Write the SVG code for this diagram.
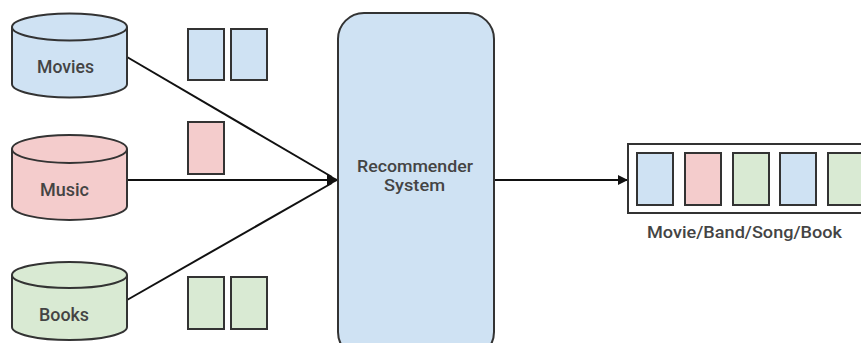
<svg xmlns="http://www.w3.org/2000/svg" width="861" height="343" viewBox="0 0 861 343">
<defs>
<style>
.s{stroke:#333;stroke-width:2}
.b{fill:#cfe2f3}.p{fill:#f4cccc}.g{fill:#d9ead3}
.t{font-family:Roboto,"Liberation Sans",sans-serif;font-weight:500;fill:#444;text-anchor:middle}
.c{font-size:19px}
.r{font-size:16px}
.l{stroke:#111;stroke-width:2;fill:none}
</style>
<marker id="ah" markerWidth="10" markerHeight="10" refX="9" refY="5" orient="auto" markerUnits="userSpaceOnUse"><path d="M0,0 L10,5 L0,10 Z" fill="#111"/></marker>
<marker id="ah2" markerWidth="12" markerHeight="12" refX="11" refY="6" orient="auto" markerUnits="userSpaceOnUse"><path d="M0,0 L12,6 L0,12 Z" fill="#111"/></marker>
</defs>
<rect width="861" height="343" fill="#fff"/>
<g id="connectors">
<line class="l" x1="127" y1="57" x2="332" y2="177"/>
<line class="l" x1="127" y1="300" x2="332" y2="183"/>
<line class="l" x1="127" y1="180" x2="338" y2="180" marker-end="url(#ah2)"/>
<line class="l" x1="494" y1="180" x2="627" y2="180" marker-end="url(#ah)"/>
</g>
<g id="movies">
<path class="s b" d="M12,27 L12,84 A57.5,13.5 0 0 0 127,84 L127,27"/>
<ellipse class="s b" cx="69.5" cy="27" rx="57.5" ry="13.5"/>
<text class="t c" x="65.5" y="73" textLength="57" lengthAdjust="spacingAndGlyphs">Movies</text>
</g>
<g id="music">
<path class="s p" d="M12,149 L12,206 A57.5,14 0 0 0 127,206 L127,149"/>
<ellipse class="s p" cx="69.5" cy="149" rx="57.5" ry="14"/>
<text class="t c" x="64.5" y="196" textLength="49" lengthAdjust="spacingAndGlyphs">Music</text>
</g>
<g id="books">
<path class="s g" d="M12,275 L12,327 A57.5,13 0 0 0 127,327 L127,275"/>
<ellipse class="s g" cx="69.5" cy="275" rx="57.5" ry="13"/>
<text class="t c" x="64" y="321" textLength="50" lengthAdjust="spacingAndGlyphs">Books</text>
</g>
<g id="movie-items">
<rect class="s b" x="188" y="29" width="36" height="51"/>
<rect class="s b" x="231" y="29" width="36" height="51"/>
</g>
<g id="music-items">
<rect class="s p" x="188" y="122" width="36" height="52"/>
</g>
<g id="book-items">
<rect class="s g" x="188" y="277" width="36" height="52"/>
<rect class="s g" x="231" y="277" width="36" height="52"/>
</g>
<g id="recommender">
<rect class="s b" x="338" y="13" width="156" height="345" rx="26"/>
<text class="t r" x="415" y="172" textLength="116" lengthAdjust="spacingAndGlyphs">Recommender</text>
<text class="t r" x="414.5" y="191" textLength="61" lengthAdjust="spacingAndGlyphs">System</text>
</g>
<g id="output">
<rect x="628" y="144" width="250" height="69" fill="#fff" stroke="#333" stroke-width="2"/>
<rect class="s b" x="637" y="153" width="36" height="52"/>
<rect class="s p" x="685" y="153" width="36" height="52"/>
<rect class="s g" x="733" y="153" width="36" height="52"/>
<rect class="s b" x="780" y="153" width="36" height="52"/>
<rect class="s g" x="828" y="153" width="36" height="52"/>
<text class="t r" x="744.5" y="238" textLength="195" lengthAdjust="spacingAndGlyphs">Movie/Band/Song/Book</text>
</g>
</svg>
